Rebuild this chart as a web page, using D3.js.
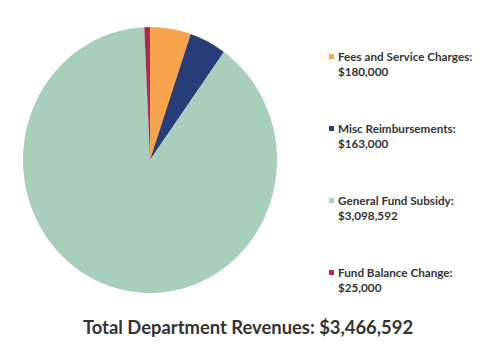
<!DOCTYPE html>
<html>
<head>
<meta charset="utf-8">
<script src="https://cdn.jsdelivr.net/npm/d3@7/dist/d3.min.js"></script>
<style>
  html, body { margin: 0; padding: 0; background: #fff; }
  svg { display: block; }
  text { font-family: Lato, "Open Sans", sans-serif; fill: #333; }
</style>
</head>
<body>
<svg id="chart" width="477" height="346"></svg>
<script>
// Department revenue sources
const categories = ["Fees and Service Charges", "Misc Reimbursements", "General Fund Subsidy", "Fund Balance Change"];
const amounts = [180000, 163000, 3098592, 25000];
const amountLabels = ["$180,000", "$163,000", "$3,098,592", "$25,000"];
const colors = ["#F8A34E", "#283E78", "#A8CFBC", "#B5284A"];
const totalLabel = "Total Department Revenues: $3,466,592";

const svg = d3.select("#chart");

const cx = 150, cy = 160, rx = 127, ry = 133;

const pie = d3.pie().sort(null).value(d => d)(amounts);
const arc = d3.arc().innerRadius(0).outerRadius(rx);

svg.append("defs").append("filter").attr("id", "soft")
  .append("feGaussianBlur").attr("stdDeviation", 0.6);

const g = svg.append("g")
  .attr("transform", `translate(${cx},${cy}) scale(1,${ry / rx})`)
  .attr("filter", "url(#soft)");

g.selectAll("path").data(pie).join("path")
  .attr("d", arc)
  .attr("fill", (d, i) => colors[i]);

// Legend
const legendY = d3.scalePoint().domain(categories).range([57, 273]);
const legend = svg.append("g");
const item = legend.selectAll("g").data(categories).join("g")
  .attr("transform", d => `translate(329,${legendY(d)})`);
item.append("rect")
  .attr("x", 0).attr("y", -3).attr("width", 5).attr("height", 5)
  .attr("fill", (d, i) => colors[i]);
item.append("text")
  .attr("x", 9).attr("y", 4)
  .attr("font-size", 11.7).attr("font-weight", 700)
  .text(d => d + ":");
item.append("text")
  .attr("x", 9).attr("y", 19)
  .attr("font-size", 11.7).attr("font-weight", 700)
  .text((d, i) => amountLabels[i]);

// Total
svg.append("text")
  .attr("x", 248).attr("y", 334)
  .attr("text-anchor", "middle")
  .attr("font-size", 18.4).attr("font-weight", 700)
  .text(totalLabel);
</script>
</body>
</html>
